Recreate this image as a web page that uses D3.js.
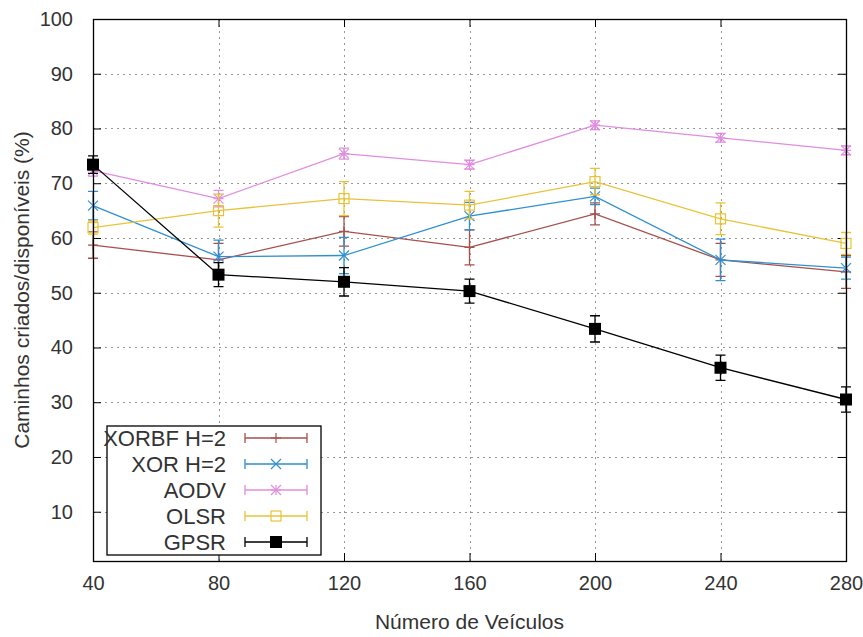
<!DOCTYPE html>
<html lang="pt">
<head>
<meta charset="utf-8">
<title>Caminhos criados/disponiveis</title>
<script src="https://d3js.org/d3.v7.min.js"></script>
<style>
  body { margin: 0; background: #fff; }
  text { font-family: "Liberation Sans", Arial, sans-serif; fill: #333; }
</style>
</head>
<body>
<script>
// data
var vehicles = [40, 80, 120, 160, 200, 240, 280];
var xorbf    = [58.7, 56.0, 61.2, 58.3, 64.4, 56.0, 53.8];
var xorbfErr = [2.4, 3.0, 2.7, 3.2, 2.0, 3.0, 3.0];
var xor      = [65.9, 56.6, 56.8, 64.0, 67.6, 56.0, 54.5];
var xorErr   = [2.6, 3.0, 3.3, 2.5, 1.5, 3.8, 2.0];
var aodv     = [72.3, 67.2, 75.4, 73.4, 80.6, 78.3, 76.0];
var aodvErr  = [1.0, 1.5, 1.0, 0.8, 0.8, 0.8, 0.8];
var olsr     = [61.9, 65.0, 67.2, 66.0, 70.3, 63.5, 59.0];
var olsrErr  = [1.2, 3.0, 3.1, 2.5, 2.4, 2.9, 2.0];
var gpsr     = [73.4, 53.3, 52.0, 50.3, 43.4, 36.3, 30.5];
var gpsrErr  = [1.6, 2.2, 2.6, 2.2, 2.4, 2.3, 2.3];
var yTicks = [10, 20, 30, 40, 50, 60, 70, 80, 90, 100];

var series = [
  {name: 'XORBF H=2', vals: xorbf, err: xorbfErr, color: '#a5504c', mark: 'plus'},
  {name: 'XOR H=2',   vals: xor,   err: xorErr,   color: '#2f8fd0', mark: 'cross'},
  {name: 'AODV',      vals: aodv,  err: aodvErr,  color: '#e08de0', mark: 'star'},
  {name: 'OLSR',      vals: olsr,  err: olsrErr,  color: '#e8c33a', mark: 'square'},
  {name: 'GPSR',      vals: gpsr,  err: gpsrErr,  color: '#000000', mark: 'fsquare'}
];

var W = 863, H = 637;
var pL = 93, pR = 846, pT = 19, pB = 561;

var svg = d3.select('body').append('svg')
    .attr('width', W)
    .attr('height', H);

var x = d3.scaleLinear().domain([40, 280]).range([pL, pR]);
var y = d3.scaleLinear().domain([1, 100]).range([pB, pT]);

// grid
var grid = svg.append('g').attr('stroke', '#999').attr('stroke-width', 1)
    .attr('stroke-dasharray', '2,4');
grid.selectAll('.gy').data(yTicks.filter(function (d) { return d < 100; }))
  .enter().append('line')
    .attr('x1', pL).attr('x2', pR)
    .attr('y1', function (d) { return Math.round(y(d)) + 0.5; })
    .attr('y2', function (d) { return Math.round(y(d)) + 0.5; });
grid.selectAll('.gx').data(vehicles.slice(1, -1))
  .enter().append('line')
    .attr('y1', pT).attr('y2', pB)
    .attr('x1', function (d) { return Math.round(x(d)) + 0.5; })
    .attr('x2', function (d) { return Math.round(x(d)) + 0.5; });

// axes (gnuplot style: ticks inside, mirrored)
var yAxis = d3.axisLeft(y).tickValues(yTicks).tickSize(-8).tickPadding(20);
var yAxisR = d3.axisRight(y).tickValues(yTicks).tickSize(-8).tickFormat('');
var xAxis = d3.axisBottom(x).tickValues(vehicles).tickSize(-8).tickPadding(15);
var xAxisT = d3.axisTop(x).tickValues(vehicles).tickSize(-8).tickFormat('');

function style(g) {
  g.select('.domain').remove();
  g.selectAll('.tick line').attr('stroke', '#000');
  g.selectAll('.tick text').attr('fill', '#333')
    .style('font-family', '"Liberation Sans", Arial, sans-serif')
    .style('font-size', '20px');
}
svg.append('g').attr('transform', 'translate(' + pL + ',0)').call(yAxis).call(style);
svg.append('g').attr('transform', 'translate(' + pR + ',0)').call(yAxisR).call(style);
svg.append('g').attr('transform', 'translate(0,' + pB + ')').call(xAxis).call(style);
svg.append('g').attr('transform', 'translate(0,' + pT + ')').call(xAxisT).call(style);

// markers
function drawMark(g, kind, cx, cy, color) {
  var r = 5;
  if (kind === 'plus' || kind === 'star') {
    g.append('path').attr('d', 'M' + (cx - r) + ',' + cy + 'H' + (cx + r) + 'M' + cx + ',' + (cy - r) + 'V' + (cy + r))
      .attr('stroke', color).attr('stroke-width', 1.2).attr('fill', 'none');
  }
  if (kind === 'cross' || kind === 'star') {
    g.append('path').attr('d', 'M' + (cx - r) + ',' + (cy - r) + 'L' + (cx + r) + ',' + (cy + r) +
        'M' + (cx - r) + ',' + (cy + r) + 'L' + (cx + r) + ',' + (cy - r))
      .attr('stroke', color).attr('stroke-width', 1.2).attr('fill', 'none');
  }
  if (kind === 'square') {
    g.append('rect').attr('x', cx - 5).attr('y', cy - 5).attr('width', 10).attr('height', 10)
      .attr('fill', 'none').attr('stroke', color).attr('stroke-width', 1.2);
  }
  if (kind === 'fsquare') {
    g.append('rect').attr('x', cx - 6).attr('y', cy - 6).attr('width', 12).attr('height', 12)
      .attr('fill', color);
  }
}

var line = d3.line()
    .x(function (d, i) { return x(vehicles[i]); })
    .y(function (d) { return y(d); });

series.forEach(function (s) {
  var g = svg.append('g');
  g.append('path').datum(s.vals)
    .attr('d', line)
    .attr('fill', 'none')
    .attr('stroke', s.color)
    .attr('stroke-width', 1.3);
  // error bars
  g.selectAll('.err').data(s.vals).enter().append('path')
    .attr('d', function (d, i) {
      var cx = x(vehicles[i]), y0 = y(d - s.err[i]), y1 = y(d + s.err[i]);
      return 'M' + cx + ',' + y0 + 'V' + y1 + 'M' + (cx - 5) + ',' + y0 + 'H' + (cx + 5) +
        'M' + (cx - 5) + ',' + y1 + 'H' + (cx + 5);
    })
    .attr('stroke', s.color).attr('stroke-width', 1.3).attr('fill', 'none');
  s.vals.forEach(function (d, i) { drawMark(g, s.mark, x(vehicles[i]), y(d), s.color); });
});

// frame
svg.append('rect')
  .attr('x', pL + 0.5).attr('y', pT + 0.5)
  .attr('width', pR - pL).attr('height', pB - pT)
  .attr('fill', 'none').attr('stroke', '#000').attr('stroke-width', 1.3);

// legend
var lg = svg.append('g');
lg.append('rect').attr('x', 107).attr('y', 426).attr('width', 214).attr('height', 129)
  .attr('fill', '#fff').attr('stroke', '#000').attr('stroke-width', 1.3);
series.forEach(function (s, i) {
  var ly = 438 + i * 26;
  lg.append('text').attr('x', 226).attr('y', ly).attr('dy', '0.35em')
    .attr('text-anchor', 'end').style('font-size', '22px').text(s.name);
  lg.append('path')
    .attr('d', 'M245,' + ly + 'H307M245,' + (ly - 5) + 'V' + (ly + 5) + 'M307,' + (ly - 5) + 'V' + (ly + 5))
    .attr('stroke', s.color).attr('stroke-width', 1.3).attr('fill', 'none');
  drawMark(lg, s.mark, 276, ly, s.color);
});

// axis labels
svg.append('text')
  .attr('x', (pL + pR) / 2).attr('y', 622).attr('dy', '0.35em')
  .attr('text-anchor', 'middle').style('font-size', '21px')
  .text('Número de Veículos');
svg.append('text')
  .attr('transform', 'translate(22,' + ((pT + pB) / 2) + ') rotate(-90)')
  .attr('dy', '0.35em')
  .attr('text-anchor', 'middle').style('font-size', '21px')
  .text('Caminhos criados/disponíveis (%)');
</script>
</body>
</html>
